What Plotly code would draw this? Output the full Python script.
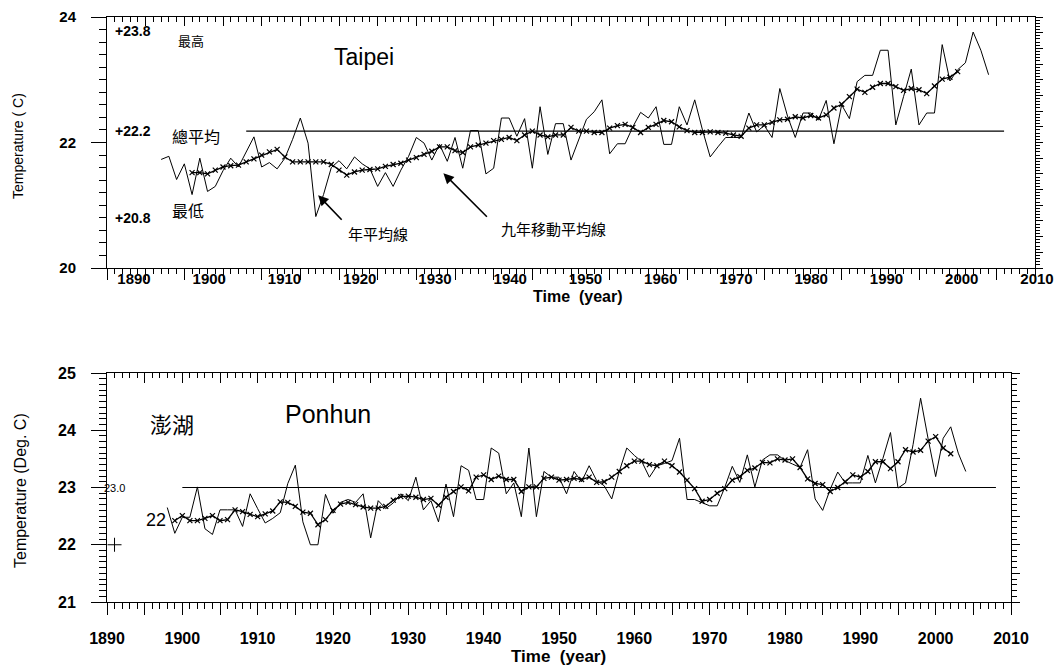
import plotly.graph_objects as go

W, H = 1062, 669

# ---------------- data ----------------
tp_years = list(range(1897, 2005))
tp_annual = [21.73, 21.78, 21.41,
             21.66, 21.17, 21.75, 21.22, 21.30, 21.55, 21.75, 21.61, 21.86, 22.09,
             21.61, 21.68, 21.58, 21.75, 22.05, 22.39, 21.99, 20.82, 21.17, 21.60,
             21.71, 21.58, 21.77, 21.66, 21.58, 21.30, 21.52, 21.30, 21.56, 21.78,
             22.08, 21.99, 21.72, 21.97, 21.70, 22.08, 21.59, 22.19, 22.19, 21.50,
             21.59, 22.39, 22.39, 22.10, 22.38, 21.59, 22.57, 21.81, 22.30, 22.30,
             21.72, 22.04, 22.37, 22.49, 22.68, 21.82, 21.98, 21.98, 22.25, 22.48,
             22.39, 22.57, 21.97, 21.97, 22.57, 22.28, 22.68, 22.20, 21.77, 21.93,
             22.08, 22.08, 22.08, 22.47, 22.17, 22.27, 22.08, 22.86, 22.42, 22.08,
             22.47, 22.47, 22.36, 22.67, 21.98, 22.60, 22.38, 22.97, 23.07, 23.07,
             23.47, 23.47, 22.28, 22.73, 23.17, 22.28, 22.47, 22.47, 23.56, 22.98,
             23.16, 23.27, 23.76, 23.47, 23.08]
tp_ma_years = list(range(1901, 2001))
tp_ma = [21.52, 21.52, 21.50, 21.56, 21.61, 21.63, 21.64, 21.69, 21.74, 21.80,
         21.85, 21.89, 21.77, 21.69, 21.69, 21.69, 21.69, 21.69, 21.65, 21.56,
         21.48, 21.53, 21.56, 21.57, 21.58, 21.62, 21.65, 21.67, 21.72, 21.76,
         21.81, 21.86, 21.93, 21.93, 21.87, 21.84, 21.93, 21.96, 21.99, 22.03,
         22.05, 22.08, 22.03, 22.12, 22.18, 22.12, 22.09, 22.12, 22.12, 22.24,
         22.18, 22.18, 22.16, 22.16, 22.23, 22.27, 22.29, 22.24, 22.16, 22.24,
         22.29, 22.35, 22.33, 22.25, 22.19, 22.16, 22.16, 22.17, 22.16, 22.15,
         22.12, 22.10, 22.23, 22.28, 22.28, 22.32, 22.36, 22.37, 22.41, 22.39,
         22.43, 22.39, 22.44, 22.55, 22.61, 22.73, 22.85, 22.80, 22.88, 22.94,
         22.94, 22.89, 22.83, 22.86, 22.84, 22.78, 22.90, 23.01, 23.04, 23.13]
tp_mean_years = [1908, 2006]
tp_mean = [22.18, 22.18]

ph_years = list(range(1898, 2005))
ph_annual = [22.65, 22.20,
             22.48, 22.48, 23.01, 22.28, 22.18, 22.61, 22.61, 22.61, 22.32, 22.89,
             22.63, 22.38, 22.46, 22.56, 23.07, 23.39, 22.40, 22.00, 22.00, 22.88,
             22.55, 22.74, 22.79, 22.74, 22.89, 22.12, 22.77, 22.63, 22.73, 22.89,
             22.77, 23.18, 22.61, 22.77, 22.40, 23.06, 22.49, 23.38, 23.30, 22.79,
             22.79, 23.69, 23.60, 22.89, 23.08, 22.49, 23.69, 22.49, 23.28, 23.18,
             23.18, 22.89, 23.28, 23.10, 23.38, 23.12, 23.03, 22.80, 23.28, 23.69,
             23.56, 23.45, 23.18, 23.38, 23.42, 23.47, 23.86, 22.79, 22.79, 22.73,
             22.68, 22.68, 23.00, 23.37, 23.09, 23.57, 23.01, 23.48, 23.57, 23.57,
             23.47, 23.41, 23.35, 23.66, 22.80, 22.60, 22.97, 23.27, 23.08, 23.08,
             23.08, 23.56, 23.08, 23.51, 23.96, 22.99, 23.08, 23.75, 24.56, 23.85,
             23.19, 23.86, 24.06, 23.60, 23.28]
ph_ma_years = list(range(1899, 2003))
ph_ma = [22.42,
         22.51, 22.42, 22.42, 22.46, 22.51, 22.42, 22.44, 22.61, 22.58, 22.53,
         22.49, 22.54, 22.59, 22.75, 22.74, 22.67, 22.57, 22.55, 22.35, 22.44,
         22.60, 22.71, 22.74, 22.70, 22.66, 22.64, 22.64, 22.67, 22.78, 22.84,
         22.85, 22.83, 22.79, 22.81, 22.69, 22.83, 22.93, 23.01, 22.94, 23.18,
         23.22, 23.14, 23.20, 23.14, 23.14, 22.93, 23.01, 23.01, 23.16, 23.18,
         23.13, 23.14, 23.16, 23.14, 23.18, 23.09, 23.10, 23.18, 23.28, 23.38,
         23.46, 23.46, 23.40, 23.38, 23.46, 23.38, 23.27, 23.13, 22.98, 22.76,
         22.79, 22.90, 22.98, 23.13, 23.19, 23.30, 23.34, 23.44, 23.43, 23.50,
         23.48, 23.50, 23.35, 23.15, 23.07, 23.05, 22.93, 23.00, 23.10, 23.22,
         23.18, 23.28, 23.45, 23.45, 23.33, 23.45, 23.66, 23.62, 23.65, 23.81,
         23.89, 23.69, 23.59]
ph_mean_years = [1900, 2008]
ph_mean = [23.0, 23.0]
ph_cross_x = [1891]
ph_cross_y = [22.0]

x_label_years = list(range(1890, 2011, 10))
x_label_text = [str(v) for v in x_label_years]
x_major_years = list(range(1890, 2011, 5))
x_major_text = [str(v) if v % 10 == 0 else "" for v in x_major_years]
top_y_ticks = [20, 22, 24]
top_y_text = [str(v) for v in top_y_ticks]
bot_y_ticks = [21, 22, 23, 24, 25]
bot_y_text = [str(v) for v in bot_y_ticks]

# ---------------- layout geometry ----------------
def px_x(p):
    return p / W

def px_y(p):
    return 1 - p / H

dx_top = [px_x(107), px_x(1035)]
dy_top = [px_y(268), px_y(17)]
dx_bot = [px_x(107), px_x(1011)]
dy_bot = [px_y(602), px_y(373)]
dx_toplab = [px_x(134), px_x(1037)]

LAT = "Liberation Sans, Arial, sans-serif"
CJK = "Noto Sans CJK TC, Noto Sans CJK SC, sans-serif"

fig = go.Figure()

line_k = dict(color="black", width=1)
ma_line = dict(color="black", width=1.3)
ma_marker = dict(symbol="x-thin", size=5, line=dict(color="black", width=1.2), color="black")

# Taipei
fig.add_trace(go.Scatter(x=tp_years, y=tp_annual, mode="lines", line=line_k,
                         xaxis="x", yaxis="y", showlegend=False))
fig.add_trace(go.Scatter(x=tp_ma_years, y=tp_ma, mode="lines+markers", line=ma_line,
                         marker=ma_marker, xaxis="x", yaxis="y", showlegend=False))
fig.add_trace(go.Scatter(x=tp_mean_years, y=tp_mean, mode="lines", line=dict(color="black", width=1.2),
                         xaxis="x", yaxis="y", showlegend=False))
# Ponhun
fig.add_trace(go.Scatter(x=ph_years, y=ph_annual, mode="lines", line=line_k,
                         xaxis="x3", yaxis="y3", showlegend=False))
fig.add_trace(go.Scatter(x=ph_ma_years, y=ph_ma, mode="lines+markers", line=ma_line,
                         marker=ma_marker, xaxis="x3", yaxis="y3", showlegend=False))
fig.add_trace(go.Scatter(x=ph_mean_years, y=ph_mean, mode="lines", line=dict(color="black", width=1.2),
                         xaxis="x3", yaxis="y3", showlegend=False))
fig.add_trace(go.Scatter(x=ph_cross_x, y=ph_cross_y, mode="markers",
                         marker=dict(symbol="cross-thin", size=10, line=dict(color="black", width=1)),
                         xaxis="x3", yaxis="y3", showlegend=False, cliponaxis=False))

# dummy traces so overlay / label axes are drawn
for xa, ya in [("x2", "y"), ("x", "y2"), ("x4", "y3"), ("x3", "y4"), ("x5", "y5")]:
    fig.add_trace(go.Scatter(x=[None], y=[None], mode="markers", xaxis=xa, yaxis=ya,
                             showlegend=False, hoverinfo="skip"))

base = dict(showgrid=False, zeroline=False, showline=True, linecolor="black", linewidth=1,
            tickcolor="black", tickwidth=1)
numfont = dict(family=LAT, size=15, color="black", weight="bold")
numfont_b = dict(family=LAT, size=16, color="black", weight="bold")

fig.update_layout(
    width=W, height=H, autosize=False,
    margin=dict(l=0, r=0, t=0, b=0),
    paper_bgcolor="white", plot_bgcolor="rgba(0,0,0,0)",
    template="none",
    font=dict(family=LAT, color="black"),
    xaxis=dict(**base, domain=dx_top, anchor="y", range=[1890, 2010], ticks="outside",
               tickvals=x_major_years, ticklen=11, showticklabels=False,
               minor=dict(tickmode="linear", tick0=1890, dtick=1, ticks="outside", ticklen=5,
                          tickcolor="black", showgrid=False)),
    xaxis2=dict(**base, overlaying="x", side="top", anchor="y", range=[1890, 2010], ticks="inside",
                tickvals=x_major_years, ticklen=9, showticklabels=False,
                minor=dict(tickmode="linear", tick0=1890, dtick=1, ticks="inside", ticklen=5,
                           tickcolor="black", showgrid=False)),
    yaxis=dict(**base, domain=dy_top, anchor="x", range=[20, 24], ticks="outside",
               tickvals=top_y_ticks, ticktext=top_y_text, ticklen=15, tickfont=numfont,
               ticklabelstandoff=12,
               minor=dict(tickmode="linear", tick0=20, dtick=0.2, ticks="outside", ticklen=7,
                          tickcolor="black", showgrid=False)),
    yaxis2=dict(**base, overlaying="y", side="right", anchor="x", range=[20, 24], ticks="outside",
                tickmode="linear", tick0=20, dtick=0.25, ticklen=7, showticklabels=False,
                minor=dict(tickmode="linear", tick0=20, dtick=0.05, ticks="outside", ticklen=4,
                           tickcolor="black", showgrid=False)),
    xaxis5=dict(showgrid=False, zeroline=False, showline=False, domain=dx_toplab, anchor="y5",
                range=[1890, 2010], ticks="", tickvals=x_label_years, ticktext=x_label_text,
                tickfont=numfont),
    yaxis5=dict(domain=dy_top, anchor="x5", range=[0, 1], visible=False),
    xaxis3=dict(**base, domain=dx_bot, anchor="y3", range=[1890, 2010], ticks="outside",
                tickvals=x_major_years, ticktext=x_major_text, ticklen=12, tickfont=numfont_b,
                ticklabelstandoff=10,
                minor=dict(tickmode="linear", tick0=1890, dtick=1, ticks="outside", ticklen=6,
                           tickcolor="black", showgrid=False)),
    xaxis4=dict(**base, overlaying="x3", side="top", anchor="y3", range=[1890, 2010], ticks="inside",
                tickvals=x_major_years, ticklen=10, showticklabels=False,
                minor=dict(tickmode="linear", tick0=1890, dtick=1, ticks="inside", ticklen=5,
                           tickcolor="black", showgrid=False)),
    yaxis3=dict(**base, domain=dy_bot, anchor="x3", range=[21, 25], ticks="outside",
                tickvals=bot_y_ticks, ticktext=bot_y_text, ticklen=15, tickfont=numfont_b,
                ticklabelstandoff=12,
                minor=dict(tickmode="linear", tick0=21, dtick=0.1, ticks="outside", ticklen=7,
                           tickcolor="black", showgrid=False)),
    yaxis4=dict(**base, overlaying="y3", side="right", anchor="x3", range=[21, 25], ticks="outside",
                tickmode="linear", tick0=21, dtick=0.5, ticklen=8, showticklabels=False,
                minor=dict(tickmode="linear", tick0=21, dtick=0.1, ticks="outside", ticklen=5,
                           tickcolor="black", showgrid=False)),
)


def ann(text, px, py, size, family=LAT, weight="normal", angle=0, xanchor="center"):
    return dict(text=text, x=px_x(px), y=px_y(py), xref="paper", yref="paper",
                showarrow=False, xanchor=xanchor, yanchor="middle", textangle=angle,
                font=dict(family=family, size=size, color="black", weight=weight))


annotations = [
    ann("Temperature ( C)", 18, 146, 14, angle=-90),
    ann("Time  (year)", 578, 297, 16, weight="bold"),
    ann("Taipei", 364, 57, 23),
    ann("+23.8", 133, 31, 14, weight="bold"),
    ann("最高", 191, 41, 13, family=CJK),
    ann("+22.2", 133, 131, 14, weight="bold"),
    ann("總平均", 196, 136, 16, family=CJK),
    ann("最低", 188, 210, 16, family=CJK),
    ann("+20.8", 133, 218, 14, weight="bold"),
    ann("年平均線", 378, 233, 15, family=CJK),
    ann("九年移動平均線", 553, 228, 15, family=CJK),
    ann("Temperature (Deg. C)", 20, 491, 16, angle=-90),
    ann("Time  (year)", 558, 656, 17, weight="bold"),
    ann("Ponhun", 328, 414, 25),
    ann("澎湖", 172, 423, 22, family=CJK),
    ann("23.0", 114, 488, 11),
    ann("22", 156, 520, 18),
]

# arrows pointing at the curves (tips in data coordinates)
annotations.append(dict(x=1917.3, y=21.16, xref="x", yref="y", ax=25, ay=26,
                        axref="pixel", ayref="pixel", showarrow=True, text="",
                        arrowhead=2, arrowsize=1.3, arrowwidth=1.6, arrowcolor="black"))
annotations.append(dict(x=1933.5, y=21.51, xref="x", yref="y", ax=45, ay=45,
                        axref="pixel", ayref="pixel", showarrow=True, text="",
                        arrowhead=2, arrowsize=1.3, arrowwidth=1.6, arrowcolor="black"))

fig.update_layout(annotations=annotations)

fig.write_html("out.html", config={"displayModeBar": False},
               post_script="document.body.style.margin='0px';document.body.style.overflow='hidden';")
